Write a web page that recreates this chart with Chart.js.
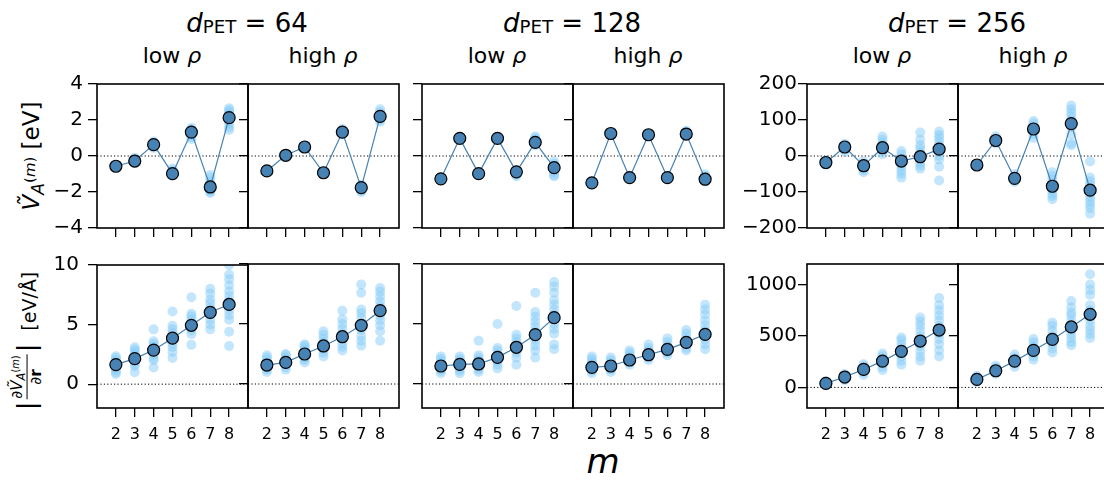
<!DOCTYPE html>
<html>
<head>
<meta charset="utf-8">
<script src="https://cdn.jsdelivr.net/npm/chart.js@4/dist/chart.umd.min.js"></script>
<style>
html,body{margin:0;padding:0;width:1104px;height:482px;overflow:hidden;background:#fff;font-family:"DejaVu Sans",sans-serif;color:#000;}
canvas{position:absolute;}
.t{position:absolute;white-space:nowrap;line-height:1;color:#000;}
.c{transform:translateX(-50%);}
.sub{font-size:0.7em;position:relative;top:0.08em;}
.rw{position:absolute;width:0;height:0;}
.rot{position:absolute;left:0;top:0;white-space:nowrap;line-height:1;transform:translate(-50%,-50%) rotate(-90deg);}
.sb{font-size:0.75em;position:relative;top:0.3em;}
.sp{font-size:0.65em;position:relative;top:-0.3em;}
.frac{display:inline-block;vertical-align:middle;text-align:center;font-size:0.8em;line-height:1.05;position:relative;top:-0.2em;}
.num{display:block;border-bottom:1px solid #000;padding:0 1px 1px 1px;}
.den{display:block;padding-top:1px;}
.bar{font-size:1.35em;margin:0 2px;position:relative;top:-0.05em;}
</style>
</head>
<body>

<div class="t c" style="left:247px;top:10px;font-size:26px;"><i>d</i><span class="sub">PET</span> = 64</div>
<div class="t c" style="left:572px;top:10px;font-size:26px;"><i>d</i><span class="sub">PET</span> = 128</div>
<div class="t c" style="left:957px;top:10px;font-size:26px;"><i>d</i><span class="sub">PET</span> = 256</div>

<div class="t c" style="left:172px;top:45px;font-size:22px;">low <i>ρ</i></div>
<div class="t c" style="left:323px;top:45px;font-size:22px;">high <i>ρ</i></div>
<div class="t c" style="left:497px;top:45px;font-size:22px;">low <i>ρ</i></div>
<div class="t c" style="left:648px;top:45px;font-size:22px;">high <i>ρ</i></div>
<div class="t c" style="left:882px;top:45px;font-size:22px;">low <i>ρ</i></div>
<div class="t c" style="left:1033px;top:45px;font-size:22px;">high <i>ρ</i></div>

<div class="t c" style="left:603px;top:444px;font-size:34px;"><i>m</i></div>

<div class="rw" style="left:31px;top:156px;"><div class="rot" style="font-size:23px;"><i>Ṽ</i><span class="sb"><i>A</i></span><span class="sp">(<i>m</i>)</span>&nbsp;[eV]</div></div>

<div class="rw" style="left:30px;top:342px;"><div class="rot" style="font-size:19px;"><span class="bar">|</span><span class="frac"><span class="num">∂<i>Ṽ</i><span class="sb"><i>A</i></span><span class="sp">(<i>m</i>)</span></span><span class="den">∂<b>r</b></span></span><span class="bar">|</span><span style="margin-left:11px;">[eV/Å]</span></div></div>

<script>
// ---------------- data ----------------
const mValues = [2, 3, 4, 5, 6, 7, 8];

const potTicksSmall = [-4, -2, 0, 2, 4];
const gradTicksSmall = [0, 5, 10];
const potTicksLarge = [-200, -100, 0, 100, 200];
const gradTicksLarge = [0, 500, 1000];

// mean values (dark markers)
const potMean64Low   = [-0.57, -0.28, 0.63, -0.98, 1.33, -1.72, 2.13];
const potMean64High  = [-0.83, 0.04, 0.50, -0.93, 1.33, -1.76, 2.20];
const potMean128Low  = [-1.27, 0.98, -0.98, 0.98, -0.88, 0.76, -0.65];
const potMean128High = [-1.49, 1.25, -1.20, 1.18, -1.20, 1.22, -1.29];
const potMean256Low  = [-18, 25, -27, 23, -14, -2, 19];
const potMean256High = [-25, 43, -62, 75, -84, 90, -95];

const gradMean64Low   = [1.64, 2.14, 2.86, 3.86, 4.94, 6.03, 6.69];
const gradMean64High  = [1.58, 1.80, 2.50, 3.17, 3.94, 4.89, 6.11];
const gradMean128Low  = [1.50, 1.64, 1.67, 2.22, 3.06, 4.11, 5.53];
const gradMean128High = [1.39, 1.50, 2.00, 2.44, 2.89, 3.47, 4.14];
const gradMean256Low  = [39, 101, 175, 256, 351, 451, 558];
const gradMean256High = [78, 162, 256, 360, 467, 588, 711];

// individual samples (light markers), one list per m
const potCloud64Low = [
  [-0.50, -0.53, -0.55, -0.57, -0.59, -0.62],
  [-0.10, -0.16, -0.22, -0.27, -0.30, -0.34, -0.40],
  [0.45, 0.52, 0.58, 0.63, 0.68, 0.74, 0.80],
  [-0.70, -0.80, -0.88, -0.95, -1.00, -1.05, -1.10],
  [0.95, 1.05, 1.15, 1.25, 1.33, 1.40, 1.48, 1.55],
  [-1.05, -1.20, -1.40, -1.55, -1.70, -1.80, -1.90, -1.98, -2.05],
  [1.45, 1.60, 1.80, 1.95, 2.10, 2.25, 2.35, 2.45, 2.55, 2.65]
];
const potCloud64High = [
  [-0.80, -0.83, -0.86],
  [0.00, 0.04, 0.08],
  [0.42, 0.48, 0.52, 0.58],
  [-0.85, -0.90, -0.95, -1.00],
  [1.20, 1.28, 1.35, 1.42, 1.50],
  [-1.60, -1.70, -1.78, -1.85, -1.95, -2.00],
  [1.90, 2.00, 2.10, 2.20, 2.30, 2.45, 2.60]
];
const potCloud128Low = [
  [-1.22, -1.27, -1.30],
  [0.95, 0.98, 1.01],
  [-0.95, -0.98, -1.02],
  [0.96, 1.00, 1.06],
  [-0.80, -0.88, -0.95, -1.05, -1.12],
  [0.60, 0.70, 0.80, 0.90, 1.00, 1.08],
  [-0.30, -0.45, -0.55, -0.65, -0.75, -0.90, -1.05, -1.12]
];
const potCloud128High = [
  [-1.47, -1.50, -1.52],
  [1.23, 1.25, 1.28],
  [-1.18, -1.20, -1.23],
  [1.15, 1.18, 1.22],
  [-1.17, -1.20, -1.24],
  [1.20, 1.25, 1.32, 1.40],
  [-1.02, -1.12, -1.22, -1.30, -1.38, -1.42]
];
const potCloud256Low = [
  [-12, -16, -18, -21, -24],
  [12, 18, 24, 28, 34],
  [-15, -22, -28, -34, -40, -45],
  [5, 12, 20, 28, 36, 45, 54],
  [14, 5, -5, -14, -22, -30, -40, -50, -60],
  [65, 45, 30, 20, 10, 0, -10, -20, -28, -35],
  [68, 58, 50, 40, 30, 20, 10, 0, -10, -30, -68]
];
const potCloud256High = [
  [-22, -25, -28],
  [35, 42, 48, 55],
  [-50, -58, -65, -72],
  [50, 60, 70, 80, 90, 97],
  [-45, -55, -65, -75, -85, -95, -105, -112, -120],
  [140, 130, 120, 110, 100, 90, 80, 60, 35, 30],
  [-15, -60, -70, -80, -95, -105, -115, -125, -135, -145, -160]
];

const gradCloud64Low = [
  [0.85, 1.0, 1.2, 1.4, 1.6, 1.8, 2.0, 2.2, 2.35],
  [1.0, 1.5, 1.7, 1.9, 2.1, 2.3, 2.5, 2.7, 2.9, 3.1],
  [1.4, 2.0, 2.2, 2.5, 2.8, 3.0, 3.2, 3.4, 3.6, 4.6],
  [2.2, 2.7, 3.1, 3.4, 3.7, 4.0, 4.3, 4.6, 4.9, 6.1],
  [3.3, 4.2, 4.5, 4.8, 5.1, 5.4, 5.7, 5.9, 7.3],
  [4.6, 5.0, 5.4, 5.8, 6.1, 6.4, 6.8, 7.1, 7.6, 8.0],
  [3.2, 4.4, 5.4, 5.8, 6.2, 6.6, 7.0, 7.4, 7.8, 8.3, 8.8, 9.2, 10.0]
];
const gradCloud64High = [
  [1.0, 1.2, 1.4, 1.6, 1.8, 2.0, 2.2, 2.4],
  [1.2, 1.4, 1.6, 1.8, 2.0, 2.2, 2.4, 2.5],
  [1.8, 2.0, 2.2, 2.5, 2.8, 3.0, 3.2, 3.3],
  [2.3, 2.6, 2.9, 3.2, 3.5, 3.8, 4.1, 4.4],
  [2.8, 3.1, 3.4, 3.8, 4.2, 4.6, 5.0, 5.4, 6.1],
  [3.2, 3.6, 4.0, 4.5, 5.0, 5.5, 5.9, 6.2, 7.6, 8.3],
  [3.6, 4.4, 4.9, 5.3, 5.7, 6.1, 6.5, 6.9, 7.3, 7.7, 8.0]
];
const gradCloud128Low = [
  [0.9, 1.1, 1.3, 1.5, 1.7, 1.9, 2.1, 2.3],
  [0.9, 1.1, 1.3, 1.5, 1.7, 1.9, 2.1, 2.3],
  [1.0, 1.2, 1.4, 1.6, 1.8, 2.0, 2.2, 2.4, 3.6],
  [1.3, 1.6, 1.9, 2.2, 2.5, 2.8, 3.0, 5.0],
  [1.6, 2.2, 2.6, 2.9, 3.2, 3.5, 3.8, 4.1, 6.5],
  [2.2, 2.8, 3.2, 3.6, 4.0, 4.4, 4.8, 5.2, 5.6, 6.0, 7.6],
  [2.9, 3.3, 4.2, 4.6, 5.0, 5.4, 5.8, 6.2, 6.6, 7.0, 7.6, 8.1, 8.5]
];
const gradCloud128High = [
  [0.9, 1.1, 1.3, 1.5, 1.7, 1.9, 2.1, 2.3],
  [1.0, 1.2, 1.4, 1.6, 1.8, 2.0, 2.2],
  [1.6, 1.8, 2.0, 2.2, 2.4, 2.6, 2.8],
  [2.0, 2.2, 2.4, 2.6, 2.8, 3.0, 3.3],
  [2.4, 2.6, 2.8, 3.0, 3.2, 3.5, 3.8],
  [2.8, 3.0, 3.3, 3.6, 3.9, 4.2, 4.5],
  [2.9, 3.3, 3.7, 4.1, 4.5, 4.9, 5.3, 5.8, 6.2, 6.6]
];
const gradCloud256Low = [
  [20, 30, 40, 50, 62],
  [70, 85, 100, 115, 130],
  [120, 145, 165, 185, 205, 225],
  [170, 200, 230, 255, 280, 305, 330],
  [220, 260, 300, 340, 380, 420, 460, 485],
  [260, 300, 350, 400, 450, 500, 550, 600, 640, 680],
  [300, 360, 420, 470, 520, 560, 600, 650, 700, 750, 800, 870]
];
const gradCloud256High = [
  [55, 70, 85, 100, 110],
  [130, 150, 170, 190, 210],
  [200, 230, 260, 290, 320],
  [270, 300, 330, 360, 400, 440, 470],
  [340, 380, 420, 460, 500, 550, 600, 630],
  [410, 440, 480, 520, 560, 600, 650, 700, 730, 780, 840],
  [480, 520, 560, 600, 650, 700, 750, 800, 900, 950, 1000, 1100]
];

// ---------------- layout ----------------
const colLefts = [97, 248, 422, 573, 807, 958];
const rowTops = [84, 264];
const PW = 151, PH = 144;
const PADL = 70, PADT = 20, PADR = 15, PADB = 45;

const panels = [
  {col:0,row:0,yMin:-4,yMax:4,yTicks:potTicksSmall,showY:true, yPad:5, mean:potMean64Low,  cloud:potCloud64Low},
  {col:1,row:0,yMin:-4,yMax:4,yTicks:potTicksSmall,showY:false,yPad:5, mean:potMean64High, cloud:potCloud64High},
  {col:2,row:0,yMin:-4,yMax:4,yTicks:potTicksSmall,showY:false,yPad:5, mean:potMean128Low, cloud:potCloud128Low},
  {col:3,row:0,yMin:-4,yMax:4,yTicks:potTicksSmall,showY:false,yPad:5, mean:potMean128High,cloud:potCloud128High},
  {col:4,row:0,yMin:-200,yMax:200,yTicks:potTicksLarge,showY:true, yPad:1, mean:potMean256Low, cloud:potCloud256Low},
  {col:5,row:0,yMin:-200,yMax:200,yTicks:potTicksLarge,showY:false,yPad:1, mean:potMean256High,cloud:potCloud256High},
  {col:0,row:1,yMin:-2,yMax:10,yTicks:gradTicksSmall,showY:true, yPad:9, mean:gradMean64Low,  cloud:gradCloud64Low},
  {col:1,row:1,yMin:-2,yMax:10,yTicks:gradTicksSmall,showY:false,yPad:9, mean:gradMean64High, cloud:gradCloud64High},
  {col:2,row:1,yMin:-2,yMax:10,yTicks:gradTicksSmall,showY:false,yPad:9, mean:gradMean128Low, cloud:gradCloud128Low},
  {col:3,row:1,yMin:-2,yMax:10,yTicks:gradTicksSmall,showY:false,yPad:9, mean:gradMean128High,cloud:gradCloud128High},
  {col:4,row:1,yMin:-200,yMax:1200,yTicks:gradTicksLarge,showY:true, yPad:1, mean:gradMean256Low, cloud:gradCloud256Low},
  {col:5,row:1,yMin:-200,yMax:1200,yTicks:gradTicksLarge,showY:false,yPad:1, mean:gradMean256High,cloud:gradCloud256High}
];

Chart.defaults.font.family = "'DejaVu Sans', sans-serif";
Chart.defaults.color = '#000';

const framePlugin = {
  id: 'frame',
  afterDraw(chart) {
    const {ctx, chartArea: a} = chart;
    ctx.save();
    ctx.strokeStyle = '#000';
    ctx.lineWidth = 1.6;
    ctx.strokeRect(a.left, a.top, a.right - a.left, a.bottom - a.top);
    ctx.restore();
  }
};

function toPoints(vals) { return vals.map((v, i) => ({x: mValues[i], y: v})); }
function cloudPoints(cloud) {
  const pts = [];
  cloud.forEach((arr, i) => arr.forEach(v => pts.push({x: mValues[i], y: v})));
  return pts;
}

function gridOpts() {
  return {drawOnChartArea: false, color: '#000', lineWidth: 1.3, tickLength: 9};
}

panels.forEach(p => {
  const left = colLefts[p.col], top = rowTops[p.row];
  const W = PADL + PW + PADR, H = PADT + PH + PADB;
  const c = document.createElement('canvas');
  c.width = W; c.height = H;
  c.style.left = (left - PADL) + 'px';
  c.style.top = (top - PADT) + 'px';
  c.style.width = W + 'px';
  c.style.height = H + 'px';
  document.body.appendChild(c);
  const showX = p.row === 1;
  new Chart(c, {
    type: 'scatter',
    data: {
      datasets: [
        {type: 'line', data: [{x: 1, y: 0}, {x: 9, y: 0}], borderColor: '#000', borderWidth: 1,
         borderDash: [1.2, 2.2], pointRadius: 0, showLine: true, order: 3},
        {type: 'scatter', data: cloudPoints(p.cloud), backgroundColor: 'rgba(135,206,250,0.5)',
         borderWidth: 0, pointRadius: 5, pointHoverRadius: 5, order: 2},
        {type: 'line', data: toPoints(p.mean), showLine: true, borderColor: '#4682b4', borderWidth: 1.2,
         backgroundColor: '#4682b4', pointBackgroundColor: '#4682b4', pointBorderColor: '#000',
         pointBorderWidth: 1.2, pointRadius: 6, tension: 0, order: 1}
      ]
    },
    options: {
      responsive: false, animation: false, devicePixelRatio: 1, events: [],
      layout: {padding: {left: 0, top: PADT, right: PADR, bottom: 0}},
      plugins: {legend: {display: false}, tooltip: {enabled: false}},
      scales: {
        x: {
          type: 'linear', min: 1, max: 9,
          afterBuildTicks: s => { s.ticks = mValues.map(v => ({value: v})); },
          afterFit: s => { s.height = PADB; },
          ticks: {display: showX, autoSkip: false, maxRotation: 0, minRotation: 0, padding: 8,
                  font: {size: 16}, color: '#000', callback: v => String(v)},
          grid: gridOpts(), border: {display: false}
        },
        y: {
          type: 'linear', min: p.yMin, max: p.yMax,
          afterBuildTicks: s => { s.ticks = p.yTicks.map(v => ({value: v})); },
          afterFit: s => { s.width = PADL; },
          ticks: {display: p.showY, padding: p.yPad, font: {size: 20}, color: '#000',
                  callback: v => String(v).replace('-', '\u2212')},
          grid: gridOpts(), border: {display: false}
        }
      }
    },
    plugins: [framePlugin]
  });
});
</script>
</body>
</html>
